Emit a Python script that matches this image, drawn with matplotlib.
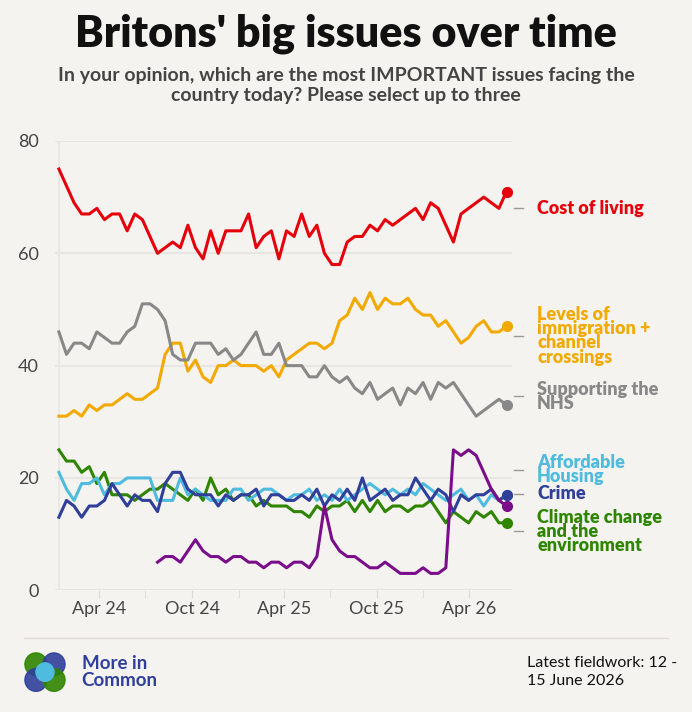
import numpy as np
import pandas as pd
import matplotlib
matplotlib.use("Agg")
import matplotlib.pyplot as plt
import matplotlib.dates as mdates
from matplotlib.patches import Circle

plt.rcParams['font.family'] = ['Lato', 'DejaVu Sans']

dates = pd.date_range('2024-01-12', '2026-06-14', periods=60)

cost_of_living = [75,72,69,67,67,68,66,67,67,64, 67,66,63,60,61,62,61,65,61,59,
                  64,60,64,64,64,67,61,63,64,59, 64,63,67,63,65,60,58,58,62,63,
                  63,65,64,66,65,66,67,68,66,69, 68,65,62,67,68,69,70,69,68,71]
immigration = [31,31,32,31,33,32,33,33,34,35, 34,34,35,36,42,44,44,39,41,38,
               37,40,40,41,40,40,40,39,40,38, 41,42,43,44,44,43,44,48,49,52,
               50,53,50,52,51,51,52,50,49,49, 47,48,46,44,45,47,48,46,46,47]
nhs = [46,42,44,44,43,46,45,44,44,46, 47,51,51,50,48,42,41,41,44,44,
       44,42,43,41,42,44,46,42,42,44, 40,40,40,38,38,40,38,37,38,36,
       35,37,34,35,36,33,36,35,37,34, 37,36,37,35,33,31,32,33,34,33]
climate = [25,23,23,21,22,19,21,17,17,17, 16,17,18,18,19,18,17,16,18,16,
           20,17,18,16,17,17,15,16,15,15, 15,14,14,13,15,14,15,15,16,14,
           16,14,16,14,15,15,14,15,15,16, 14,12,14,13,12,14,13,14,12,12]
crime = [13,16,15,13,15,15,16,19,17,15, 17,16,16,14,19,21,21,18,17,17,
         17,15,17,16,17,17,18,15,17,17, 16,16,17,16,18,15,17,16,18,16,
         20,16,17,18,16,17,17,20,18,16, 18,17,14,17,16,17,17,18,16,17]
housing = [21,18,16,19,19,20,17,19,19,20, 20,20,20,16,16,16,20,17,18,17,
           16,16,16,18,18,16,17,18,18,17, 16,17,17,18,16,17,16,18,16,17,
           18,19,18,17,18,17,18,17,19,18, 17,16,17,18,16,17,15,17,16,17]
purple = [np.nan]*13 + [5,6,6,5,7,9,7,6,6,5,6,6,5,5,4,5,5,4,5,5,4,6,
                        15,
                        9,7,6,6,5,4,4,5,4,3,3,3,4,3,3,4,
                        25,24,25,24,21,18,16,15]

series = [
    ("Cost of living", cost_of_living, "#e5000b"),
    ("Levels of\nimmigration +\nchannel\ncrossings", immigration, "#f2a900"),
    ("Supporting the\nNHS", nhs, "#888888"),
    ("Climate change\nand the\nenvironment", climate, "#2e8500"),
    ("Affordable\nHousing", housing, "#4fbbdf"),
    ("Crime", crime, "#2f3f9a"),
    ("", purple, "#7a0d8a"),
]
label_y = {"Cost of living": 68, "Levels of\nimmigration +\nchannel\ncrossings": 45.3,
           "Supporting the\nNHS": 34.5, "Affordable\nHousing": 21.5, "Crime": 17.2,
           "Climate change\nand the\nenvironment": 10.5}

bg = "#f5f3f0"
fig = plt.figure(figsize=(6.92, 7.12), dpi=100, facecolor=bg)
ax = fig.add_axes([0.08, 0.171, 0.66, 0.631], facecolor=bg)

for name, vals, col in series:
    ax.plot(dates, vals, color=col, lw=2.2, solid_joinstyle='round')
    ax.plot(dates[-1], vals[-1], 'o', color=col, ms=7, zorder=5)

ax.set_ylim(0, 80)
ax.set_xlim(pd.Timestamp('2024-01-05'), pd.Timestamp('2026-06-25'))
ax.set_yticks([0, 20, 40, 60, 80])
ax.yaxis.grid(True, color="#e8e6e2", lw=1.5)
for s in ax.spines.values():
    s.set_visible(False)
ax.tick_params(axis='y', length=0, labelsize=13, labelcolor="#444444", pad=12)
ax.xaxis.set_major_locator(mdates.MonthLocator(bymonth=[4, 10]))
ax.xaxis.set_major_formatter(mdates.DateFormatter('%b %y'))
ax.xaxis.set_minor_locator(mdates.MonthLocator(bymonth=[1, 7]))
ax.tick_params(axis='x', which='both', length=6, color="#dddad5", labelsize=13,
               labelcolor="#444444", pad=2)
ax.axvline(dates[0], color="#e8e6e2", lw=1.2, zorder=0)

for name, vals, col in series:
    if not name:
        continue
    ly = label_y[name]
    ax.annotate(name, xy=(1.0, ly / 80), xycoords='axes fraction',
                xytext=(18, 0), textcoords='offset points', va='center', ha='left',
                color=col, fontsize=13, fontweight='heavy', linespacing=0.8,
                annotation_clip=False)
    ax.plot([1.005, 1.025], [ly / 80] * 2, transform=ax.transAxes, color="#999999",
            lw=1, clip_on=False)

fig.text(0.5, 0.952, "Britons' big issues over time", ha='center', va='center',
         fontsize=31, fontweight='heavy', color="#111111")
fig.text(0.5, 0.88, "In your opinion, which are the most IMPORTANT issues facing the\ncountry today? Please select up to three",
         ha='center', va='center', fontsize=14, fontweight='bold', color="#444444",
         linespacing=1.2)

fig.add_artist(plt.Line2D([0.035, 0.965], [0.104, 0.104], color="#dddad5", lw=1))
for (cx, cy, c) in [(0.052, 0.067, "#2e8500"), (0.078, 0.067, "#2f3f9a"),
                    (0.052, 0.045, "#2f3f9a"), (0.078, 0.045, "#2e8500")]:
    fig.add_artist(Circle((cx, cy), 0.016, transform=fig.transFigure, color=c, alpha=0.9))
fig.add_artist(Circle((0.065, 0.056), 0.013, transform=fig.transFigure, color="#4fbbdf"))
fig.text(0.118, 0.056, "More in\nCommon", ha='left', va='center', fontsize=13.5,
         fontweight='bold', color="#2f3f9a", linespacing=1.0)
fig.text(0.762, 0.056, "Latest fieldwork: 12 -\n15 June 2026", ha='left', va='center',
         fontsize=11.5, color="#111111", linespacing=1.3)

fig.savefig("out.png", dpi=100, facecolor=bg)
